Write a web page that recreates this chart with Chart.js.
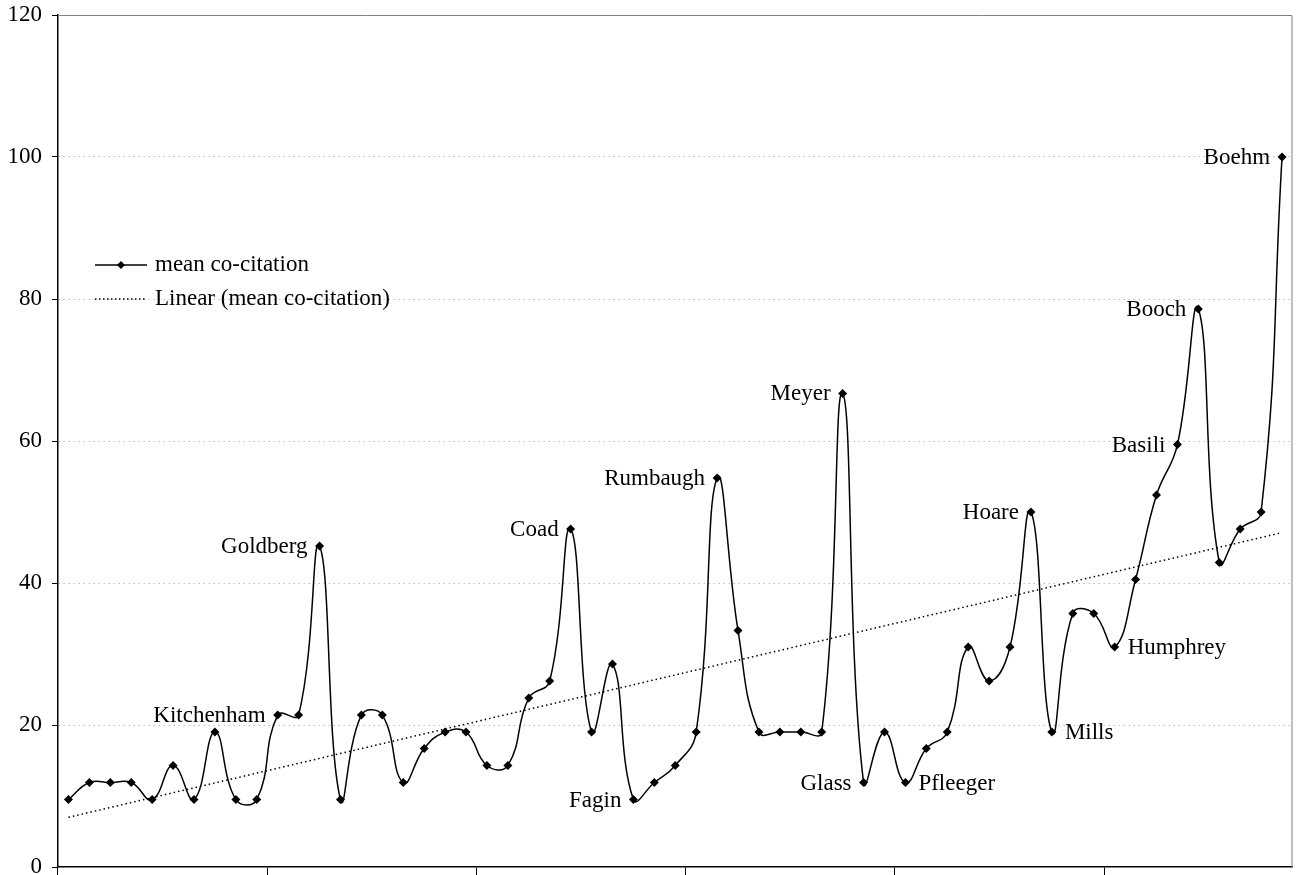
<!DOCTYPE html>
<html>
<head>
<meta charset="utf-8">
<script src="https://cdn.jsdelivr.net/npm/chart.js@4/dist/chart.umd.min.js"></script>
<style>
  html, body { margin: 0; padding: 0; background: #fff; }
  #wrap { width: 1297px; height: 875px; }
</style>
</head>
<body>
<div id="wrap"><canvas id="chart" width="1297" height="875"></canvas></div>
<script>
// mean co-citation per author (59 authors, sorted left to right)
const values = [
  9.5, 11.9, 11.9, 11.9, 9.5, 14.3, 9.5, 19.0, 9.5, 9.5,
  21.4, 21.4, 45.2, 9.5, 21.4, 21.4, 11.9, 16.7, 19.0, 19.0,
  14.3, 14.3, 23.8, 26.2, 47.6, 19.0, 28.6, 9.5, 11.9, 14.3,
  19.0, 54.8, 33.3, 19.0, 19.0, 19.0, 19.0, 66.7, 11.9, 19.0,
  11.9, 16.7, 19.0, 31.0, 26.2, 31.0, 50.0, 19.0, 35.7, 35.7,
  31.0, 40.5, 52.4, 59.5, 78.6, 42.9, 47.6, 50.0, 100.0
];
const categories = values.map((v, i) => String(i + 1));

// linear trend line, read at first and last category
const trendStart = 7.0;
const trendEnd = 47.1;

// annotated authors: category number, name, side of the point
const labelIndex = [11, 13, 25, 28, 32, 38, 39, 41, 47, 48, 51, 54, 55, 59];
const labelText = ["Kitchenham", "Goldberg", "Coad", "Fagin", "Rumbaugh", "Meyer", "Glass",
  "Pfleeger", "Hoare", "Mills", "Humphrey", "Basili", "Booch", "Boehm"];
const labelSide = ["left", "left", "left", "left", "left", "left", "left",
  "right", "left", "right", "right", "left", "left", "left"];

const seriesNames = ["mean co-citation", "Linear (mean co-citation)"];
const yTicks = { min: 0, max: 120, step: 20 };
const tickEvery = 10;

const FONT = '"Liberation Serif", "Times New Roman", serif';

const pointLabels = {
  id: "pointLabels",
  afterDatasetsDraw(chart) {
    const ctx = chart.ctx;
    const meta = chart.getDatasetMeta(0);
    ctx.save();
    ctx.font = "23px " + FONT;
    ctx.fillStyle = "#000";
    ctx.textBaseline = "middle";
    labelIndex.forEach((n, k) => {
      const el = meta.data[n - 1];
      if (labelSide[k] === "left") {
        ctx.textAlign = "right";
        ctx.fillText(labelText[k], el.x - 12, el.y + 1);
      } else {
        ctx.textAlign = "left";
        ctx.fillText(labelText[k], el.x + 13, el.y + 1);
      }
    });
    ctx.restore();
  }
};

const frame = {
  id: "frame",
  beforeDatasetsDraw(chart) {
    const { ctx, chartArea: a } = chart;
    ctx.save();
    ctx.strokeStyle = "#808080";
    ctx.lineWidth = 1;
    ctx.beginPath();
    ctx.moveTo(a.left, a.top + 0.5);
    ctx.lineTo(a.right - 0.5, a.top + 0.5);
    ctx.lineTo(a.right - 0.5, a.bottom);
    ctx.stroke();
    ctx.restore();
  }
};

const boxLegend = {
  id: "boxLegend",
  afterDraw(chart) {
    const { ctx, chartArea: a } = chart;
    const x0 = a.left + 37, x1 = a.left + 89, tx = a.left + 97;
    const y0 = 265, y1 = 299;
    ctx.save();
    // solid line with diamond
    ctx.strokeStyle = "#000";
    ctx.lineWidth = 1.5;
    ctx.beginPath();
    ctx.moveTo(x0, y0);
    ctx.lineTo(x1, y0);
    ctx.stroke();
    const cx = (x0 + x1) / 2;
    ctx.fillStyle = "#000";
    ctx.beginPath();
    ctx.moveTo(cx, y0 - 4);
    ctx.lineTo(cx + 4, y0);
    ctx.lineTo(cx, y0 + 4);
    ctx.lineTo(cx - 4, y0);
    ctx.closePath();
    ctx.fill();
    // dotted line
    ctx.setLineDash([1.5, 2.5]);
    ctx.beginPath();
    ctx.moveTo(x0, y1);
    ctx.lineTo(x1, y1);
    ctx.stroke();
    ctx.setLineDash([]);
    ctx.font = "23px " + FONT;
    ctx.textAlign = "left";
    ctx.textBaseline = "middle";
    ctx.fillText(seriesNames[0], tx, y0);
    ctx.fillText(seriesNames[1], tx, y1);
    ctx.restore();
  }
};

new Chart(document.getElementById("chart"), {
  type: "line",
  data: {
    labels: categories,
    datasets: [
      {
        label: seriesNames[0],
        data: values,
        borderColor: "#000",
        borderWidth: 1.5,
        backgroundColor: "#000",
        pointStyle: "rectRot",
        pointRadius: 4.5,
        pointBorderWidth: 0,
        tension: 0.45,
        fill: false
      },
      {
        label: seriesNames[1],
        data: [
          { x: categories[0], y: trendStart },
          { x: categories[categories.length - 1], y: trendEnd }
        ],
        borderColor: "#000",
        borderWidth: 1.5,
        borderDash: [1.5, 3],
        pointRadius: 0,
        tension: 0,
        fill: false
      }
    ]
  },
  options: {
    responsive: false,
    animation: false,
    layout: { padding: { top: 15, right: 4, left: 0, bottom: 0 } },
    plugins: {
      legend: { display: false },
      tooltip: { enabled: false }
    },
    scales: {
      x: {
        type: "category",
        offset: true,
        afterFit: (s) => { s.height = 8; s.paddingLeft = 0; s.paddingRight = 0; },
        ticks: { display: false, autoSkip: false },
        grid: {
          offset: true,
          drawOnChartArea: false,
          drawTicks: true,
          tickLength: 8,
          tickWidth: 1,
          tickColor: (c) => (c.index !== undefined && c.index % tickEvery === 0 ? "#000" : "rgba(0,0,0,0)"),
          color: "rgba(0,0,0,0)"
        },
        border: { display: true, color: "#000", width: 1.5 }
      },
      y: {
        min: yTicks.min,
        max: yTicks.max,
        afterFit: (s) => { s.width = 58; s.paddingTop = 0; s.paddingBottom = 0; },
        ticks: {
          stepSize: yTicks.step,
          color: "#000",
          padding: 10,
          font: { family: FONT, size: 23 }
        },
        grid: {
          color: (c) => (c.tick && (c.tick.value === yTicks.min || c.tick.value === yTicks.max) ? "rgba(0,0,0,0)" : "#bdbdbd"),
          lineWidth: 1,
          tickLength: 6,
          tickColor: "#000",
          tickWidth: 1
        },
        border: { display: true, color: "#000", width: 1.5, dash: [1.5, 3.5] }
      }
    }
  },
  plugins: [frame, pointLabels, boxLegend]
});
</script>
</body>
</html>
